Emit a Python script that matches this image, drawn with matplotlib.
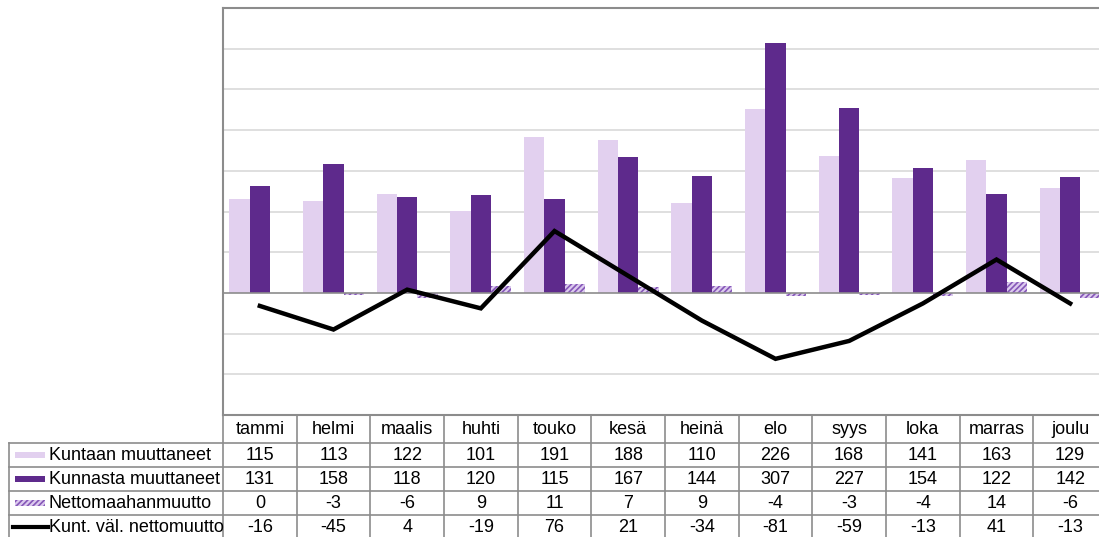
import numpy as np
import matplotlib.pyplot as plt
from matplotlib.patches import Rectangle
from matplotlib.lines import Line2D
from matplotlib.transforms import blended_transform_factory

plt.rcParams['font.family'] = ['Liberation Sans', 'DejaVu Sans']
plt.rcParams['hatch.linewidth'] = 1.2

months = ['tammi', 'helmi', 'maalis', 'huhti', 'touko', 'kesä',
          'heinä', 'elo', 'syys', 'loka', 'marras', 'joulu']
kuntaan = [115, 113, 122, 101, 191, 188, 110, 226, 168, 141, 163, 129]
kunnasta = [131, 158, 118, 120, 115, 167, 144, 307, 227, 154, 122, 142]
netto_maahan = [0, -3, -6, 9, 11, 7, 9, -4, -3, -4, 14, -6]
kunt_netto = [-16, -45, 4, -19, 76, 21, -34, -81, -59, -13, 41, -13]

row_labels = ['Kuntaan muuttaneet', 'Kunnasta muuttaneet',
              'Nettomaahanmuutto', 'Kunt. väl. nettomuutto']
rows = [kuntaan, kunnasta, netto_maahan, kunt_netto]

light = '#e2d0ef'
dark = '#5e2a8c'
hatch_bg = '#dccaee'
hatch_fg = '#8557b8'
grid_c = '#d9d9d9'
line_c = '#8c8c8c'

W, H = 1099, 537
fig = plt.figure(figsize=(W / 100, H / 100), dpi=100)

def fx(px):
    return px / W

def fy(py):
    return 1 - py / H

# plot area (right side runs past the picture edge like in the source)
ax = fig.add_axes([fx(223), fy(415), fx(884), 407 / H])
x = np.arange(len(months))
bw = 0.275
ax.bar(x - bw, kuntaan, bw, color=light, zorder=2)
ax.bar(x, kunnasta, bw, color=dark, zorder=2)
ax.bar(x + bw, netto_maahan, bw, facecolor=hatch_bg, edgecolor=hatch_fg,
       hatch='//////', linewidth=0, zorder=2)
ax.plot(x, kunt_netto, color='black', lw=3.2, zorder=4, solid_joinstyle='miter')

ax.set_xlim(-0.5, 11.5)
ax.set_ylim(-150, 350)
for g in range(-100, 350, 50):
    if g != 0:
        ax.axhline(g, color=grid_c, lw=1.2, zorder=0)
ax.axhline(0, color=line_c, lw=1.2, zorder=3)
ax.set_xticks([])
ax.set_yticks([])
for s in ['left', 'top', 'bottom']:
    ax.spines[s].set_color(line_c)
    ax.spines[s].set_linewidth(1.5)
ax.spines['right'].set_visible(False)

# data table below the plot
bt = blended_transform_factory(ax.transData, fig.transFigure)
row_top = [415, 443, 467, 491, 515, 539]
for i in range(len(months) + 1):
    fig.add_artist(Line2D([i - 0.5, i - 0.5], [fy(415), fy(539)],
                          transform=bt, color=line_c, lw=1.2))
for py in row_top[1:]:
    fig.add_artist(Line2D([fx(9), 1], [fy(py), fy(py)],
                          transform=fig.transFigure, color=line_c, lw=1.2))
fig.add_artist(Line2D([fx(9), fx(9)], [fy(443), fy(539)],
                      transform=fig.transFigure, color=line_c, lw=1.2))

fs = 13
for i, m in enumerate(months):
    fig.text(i, fy(429), m, transform=bt, ha='center', va='center', fontsize=fs)
for r, vals in enumerate(rows):
    cy = fy((row_top[r + 1] + row_top[r + 2]) / 2)
    for i, v in enumerate(vals):
        fig.text(i, cy, str(v), transform=bt, ha='center', va='center', fontsize=fs)
    fig.text(fx(49), cy, row_labels[r], ha='left', va='center', fontsize=fs)

# legend keys
ky = [(row_top[r + 1] + row_top[r + 2]) / 2 for r in range(4)]
fig.add_artist(Rectangle((fx(15), fy(ky[0] + 3)), fx(30), 6 / H,
                         transform=fig.transFigure, facecolor=light, lw=0))
fig.add_artist(Rectangle((fx(15), fy(ky[1] + 3)), fx(30), 6 / H,
                         transform=fig.transFigure, facecolor=dark, lw=0))
fig.add_artist(Rectangle((fx(15), fy(ky[2] + 3)), fx(30), 6 / H,
                         transform=fig.transFigure, facecolor=hatch_bg,
                         edgecolor=hatch_fg, hatch='//////', lw=0))
fig.add_artist(Line2D([fx(13), fx(48)], [fy(ky[3]), fy(ky[3])],
                      transform=fig.transFigure, color='black', lw=3))

fig.savefig('out.png', dpi=100)
